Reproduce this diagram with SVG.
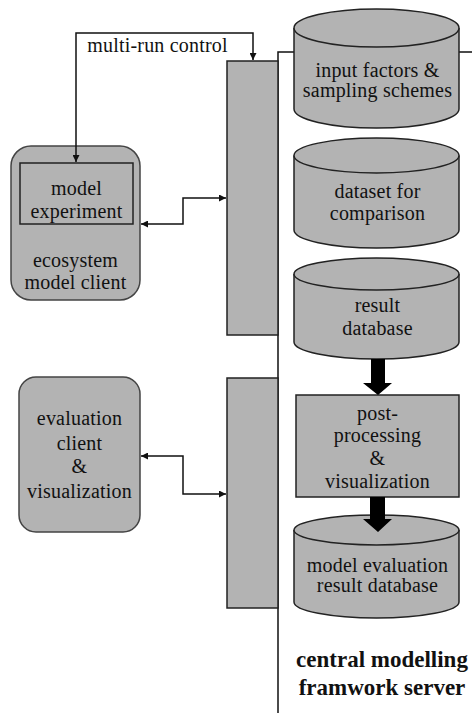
<svg xmlns="http://www.w3.org/2000/svg" width="472" height="713" viewBox="0 0 472 713">
<defs>
<style>
.shape{fill:#b3b3b3;stroke:#222;stroke-width:1.5}
.client{fill:#b3b3b3;stroke:#444;stroke-width:1.5}
.line{fill:none;stroke:#111;stroke-width:1.5}
.thick{fill:#000;stroke:none}
.t{font-family:'Liberation Serif','Tinos','Times New Roman',serif;font-size:20px;letter-spacing:0.2px;fill:#111;text-anchor:middle}
.title{font-weight:bold;font-size:23px;letter-spacing:0}
</style>
<marker id="ah" viewBox="0 0 10 10" refX="10" refY="5" markerWidth="7" markerHeight="7" markerUnits="userSpaceOnUse" orient="auto-start-reverse">
<path d="M0,0 L10,5 L0,10 z" fill="#111"/>
</marker>
</defs>
<rect width="472" height="713" fill="#fff"/>
<g id="server-boundary">
<path class="line" d="M278,713 V52 H472"/>
</g>
<g id="bridge-upper"><rect class="shape" x="227" y="61" width="51" height="274"/></g>
<g id="bridge-lower"><rect class="shape" x="227" y="378" width="51" height="230"/></g>
<g id="ecosystem-client" class="t">
<rect class="client" x="11" y="146" width="129" height="154" rx="20" ry="20"/>
<text x="75.5" y="267">ecosystem</text>
<text x="75.5" y="289">model client</text>
</g>
<g id="model-experiment" class="t">
<rect class="shape" x="20" y="163" width="113" height="61"/>
<text x="76.5" y="195">model</text>
<text x="76.5" y="218">experiment</text>
</g>
<g id="evaluation-client" class="t">
<rect class="client" x="19" y="377" width="121" height="155" rx="17" ry="17"/>
<text x="79.5" y="425">evaluation</text>
<text x="79.5" y="450">client</text>
<text x="79.5" y="473">&amp;</text>
<text x="79.5" y="498">visualization</text>
</g>
<g id="input-factors" class="t">
<path class="shape" d="M294,28 V109 A82.5,19 0 0 0 459,109 V28"/>
<ellipse class="shape" cx="376.5" cy="28" rx="82.5" ry="19"/>
<text x="377.5" y="77">input factors &amp;</text>
<text x="377.5" y="97">sampling schemes</text>
</g>
<g id="dataset-comparison" class="t">
<path class="shape" d="M294,155.5 V230 A82.5,18 0 0 0 459,230 V155.5"/>
<ellipse class="shape" cx="376.5" cy="155.5" rx="82.5" ry="17.5"/>
<text x="377.5" y="198">dataset for</text>
<text x="377.5" y="220">comparison</text>
</g>
<g id="result-database" class="t">
<path class="shape" d="M294,274 V342 A82.5,17 0 0 0 459,342 V274"/>
<ellipse class="shape" cx="376.5" cy="274" rx="82.5" ry="16"/>
<text x="377.5" y="312">result</text>
<text x="377.5" y="335">database</text>
</g>
<g id="post-processing" class="t">
<rect class="shape" x="296" y="395" width="163" height="102"/>
<text x="377.5" y="420">post-</text>
<text x="377.5" y="442">processing</text>
<text x="377.5" y="465">&amp;</text>
<text x="377.5" y="488">visualization</text>
</g>
<g id="evaluation-database" class="t">
<path class="shape" d="M294,530 V602 A82.5,16 0 0 0 459,602 V530"/>
<ellipse class="shape" cx="376.5" cy="530" rx="82.5" ry="15"/>
<text x="377.5" y="572">model evaluation</text>
<text x="377.5" y="592">result database</text>
</g>
<g id="server-label" class="t title">
<text x="382" y="667">central modelling</text>
<text x="382" y="695">framwork server</text>
</g>
<g id="connectors">
<path class="line" d="M76,162 V33 H253 V60" marker-start="url(#ah)" marker-end="url(#ah)"/>
<text class="t" x="157.5" y="52">multi-run control</text>
<path class="line" d="M141,224 H183 V198 H226" marker-start="url(#ah)" marker-end="url(#ah)"/>
<path class="line" d="M141,456 H183 V494 H226" marker-start="url(#ah)" marker-end="url(#ah)"/>
<path class="thick" d="M371,359 H385 V383 H392 L378,395 L363,383 H371 Z"/>
<path class="thick" d="M370,497 H385 V519 H392 L378,532 L363,519 H370 Z"/>
</g>
</svg>
